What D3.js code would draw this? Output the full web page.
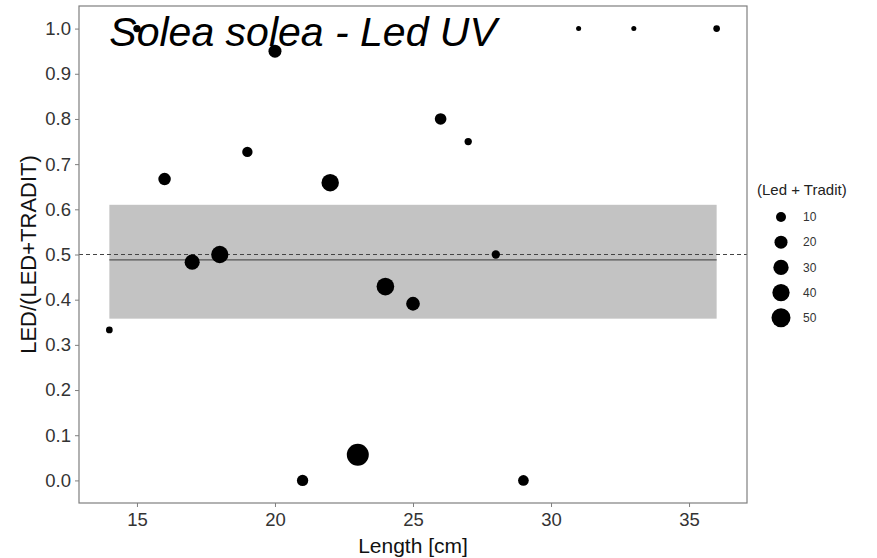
<!DOCTYPE html>
<meta charset="utf-8">
<html>
<head>
    <title>Solea solea - Led UV</title>
    <script src="https://cdn.jsdelivr.net/npm/d3@7"></script>
</head>
<style>
    body{ margin:0; background:#fff; }
    svg{ width:877px; height:558px; display:block; }
    text{ font-family: "Liberation Sans", Arial, sans-serif; }
</style>
<body>
<svg></svg>
<script>
    // ---- data ----
    const lengths = [14, 15, 16, 17, 18, 19, 20, 21, 22, 23, 24, 25, 26, 27, 28, 29, 31, 33, 36];
    const ratio   = [0.333, 1.0, 0.667, 0.483, 0.5, 0.727, 0.95, 0.0, 0.659, 0.057, 0.429, 0.391, 0.8, 0.75, 0.5, 0.0, 1.0, 1.0, 1.0];
    const total   = [3, 4, 18, 29, 40, 11, 20, 14, 41, 70, 42, 23, 15, 4, 6, 12, 1, 1, 3];
    const ribbon  = {x0: 14, x1: 36, lo: 0.358, hi: 0.61, fit: 0.488};
    const refLine = 0.5;
    const xTicks  = [15, 20, 25, 30, 35];
    const yTicks  = [0, 0.1, 0.2, 0.3, 0.4, 0.5, 0.6, 0.7, 0.8, 0.9, 1.0];
    const legendBreaks = [10, 20, 30, 40, 50];

    const data = lengths.map((l, i) => ({len: l, y: ratio[i], n: total[i]}));

    const svg = d3.select("svg");
    const panel = {left: 79, right: 747, top: 6, bottom: 503};

    // ggplot-style 5% expansion
    const x = d3.scaleLinear().domain([14 - 1.1, 36 + 1.1]).range([panel.left, panel.right]);
    const y = d3.scaleLinear().domain([-0.05, 1.05]).range([panel.bottom, panel.top]);
    const r = d3.scaleSqrt().domain([10, 50]).range([5, 9.5]);

    // ribbon + fitted line
    svg.append("rect")
        .attr("x", x(ribbon.x0)).attr("width", x(ribbon.x1) - x(ribbon.x0))
        .attr("y", y(ribbon.hi)).attr("height", y(ribbon.lo) - y(ribbon.hi))
        .attr("fill", "#c3c3c3");
    svg.append("line")
        .attr("x1", x(ribbon.x0)).attr("x2", x(ribbon.x1))
        .attr("y1", y(ribbon.fit)).attr("y2", y(ribbon.fit))
        .attr("stroke", "#555").attr("stroke-width", 1.2);
    svg.append("line")
        .attr("x1", panel.left).attr("x2", panel.right)
        .attr("y1", y(refLine)).attr("y2", y(refLine))
        .attr("stroke", "#444").attr("stroke-width", 1)
        .attr("stroke-dasharray", "4,3");

    // title inside plot
    svg.append("text")
        .attr("x", x(14)).attr("y", 46)
        .attr("font-style", "italic")
        .attr("font-size", 41)
        .attr("fill", "#000")
        .text("Solea solea - Led UV");

    // points
    svg.append("g").selectAll("circle")
        .data(data)
        .join("circle")
        .attr("cx", d => x(d.len))
        .attr("cy", d => y(d.y))
        .attr("r", d => r(d.n))
        .attr("fill", "#000");

    // panel border
    svg.append("rect")
        .attr("x", panel.left).attr("y", panel.top)
        .attr("width", panel.right - panel.left).attr("height", panel.bottom - panel.top)
        .attr("fill", "none").attr("stroke", "#7f7f7f").attr("stroke-width", 1.2);

    // axes
    const xAxis = svg.append("g")
        .attr("transform", `translate(0,${panel.bottom})`)
        .call(d3.axisBottom(x).tickValues(xTicks).tickSize(4).tickPadding(6));
    const yAxis = svg.append("g")
        .attr("transform", `translate(${panel.left},0)`)
        .call(d3.axisLeft(y).tickValues(yTicks).tickFormat(d3.format(".1f")).tickSize(4).tickPadding(4));
    [xAxis, yAxis].forEach(a => {
        a.select(".domain").remove();
        a.selectAll(".tick line").attr("stroke", "#7f7f7f");
        a.selectAll(".tick text").attr("font-size", 18.5).attr("fill", "#333")
            .attr("font-family", "'Liberation Sans', Arial, sans-serif");
    });

    svg.append("text")
        .attr("x", (panel.left + panel.right) / 2).attr("y", 553)
        .attr("text-anchor", "middle").attr("font-size", 21).attr("fill", "#111")
        .text("Length [cm]");
    svg.append("text")
        .attr("transform", `translate(36,${(panel.top + panel.bottom) / 2}) rotate(-90)`)
        .attr("text-anchor", "middle").attr("font-size", 22).attr("fill", "#111")
        .text("LED/(LED+TRADIT)");

    // size legend
    const leg = svg.append("g").attr("transform", "translate(757,0)");
    leg.append("text").attr("x", 0).attr("y", 195)
        .attr("font-size", 15).attr("fill", "#222").text("(Led + Tradit)");
    const keys = leg.selectAll("g.key").data(legendBreaks).join("g")
        .attr("class", "key")
        .attr("transform", (d, i) => `translate(24,${217 + i * 25.2})`);
    keys.append("circle").attr("r", d => r(d)).attr("fill", "#000");
    keys.append("text").attr("x", 22).attr("dy", "0.35em")
        .attr("font-size", 12).attr("fill", "#333").text(d => d);
</script>
</body>
</html>
